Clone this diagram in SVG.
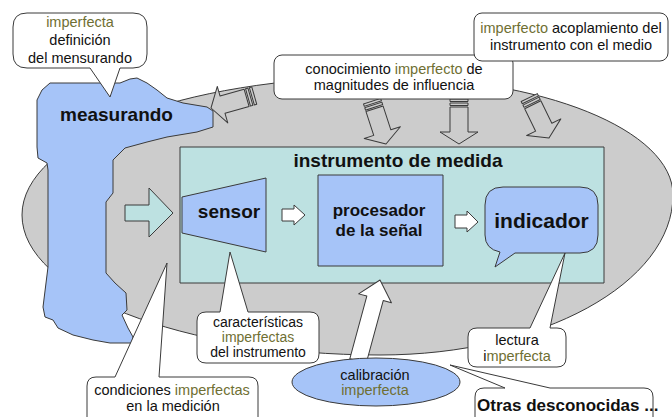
<svg xmlns="http://www.w3.org/2000/svg" width="672" height="417" viewBox="0 0 672 417">
<defs>
<style>
.ln{stroke:#3a3a3a;stroke-width:1;stroke-linejoin:round}
.gray{fill:#cccccc}
.blue{fill:#a6c4f8}
.cyan{fill:#bde1e1}
.white{fill:#ffffff}
text{font-family:"Liberation Sans",Arial,sans-serif;fill:#111111}
.t{font-size:14.5px;text-anchor:middle}
.s{font-size:14px;text-anchor:middle}
.b{font-weight:bold}
.o{fill:#6f6f33}
</style>
<g id="sa" class="ln gray">
<path d="M0,0 L-12,-19 L-12,-9 L-37,-9 L-37,9 L-12,9 L-12,19 Z"/>
<rect x="-41" y="-9" width="2.5" height="18"/>
<rect x="-45" y="-9" width="2.5" height="18"/>
</g>
</defs>
<rect width="672" height="417" fill="#ffffff"/>

<g id="environment">
<path class="ln gray" d="M22,215 C22,139 182,77 380,77 C542,77 673,130 673,195 C673,283 542,355 380,355 C182,355 22,292 22,215 Z"/>
</g>

<g id="measurando">
<path class="ln blue" d="M50,83 L120,83 L130,79 L137,78 L147,83 L157,90 L167,98 L183,103 L207,107 L213,111 L213,127 L197,132 L167,137 L147,142 L125,148 L113,160 L113,193 L106,202 L106,273 L115,283 L126,293 L127,310 L122,315 L128,328 L133,337 L132,343 L110,343 L93,340 L73,335 L58,328 L53,320 L45,317 L43,307 L48,267 L48,170 L47,163 L38,158 L37,147 L37,100 L42,90 Z"/>
<text class="b" x="60" y="121" font-size="19">measurando</text>
</g>

<g id="instrumento">
<rect class="ln cyan" x="180" y="147" width="424" height="136"/>
<text class="b" x="398" y="167" font-size="19" text-anchor="middle">instrumento de medida</text>
</g>

<g id="sensor">
<polygon class="ln blue" points="182,197 266,178 266,252 182,233"/>
<text class="b" x="229" y="218" font-size="19" text-anchor="middle">sensor</text>
</g>

<g id="procesador">
<rect class="ln blue" x="318" y="175" width="125" height="91"/>
<text class="b" x="379" y="216" font-size="17" text-anchor="middle">procesador</text>
<text class="b" x="379" y="236" font-size="17" text-anchor="middle">de la señal</text>
</g>

<g id="indicador">
<path class="ln blue" d="M503,187 H580 Q598,187 598,205 V235 Q598,253 580,253 H515 L495,267 L500,252 Q485,249 485,235 V205 Q485,187 503,187 Z"/>
<text class="b" x="541.5" y="228" font-size="21" text-anchor="middle">indicador</text>
</g>

<g id="connectors">
<use href="#sa" transform="translate(211,108) rotate(164)"/>
<use href="#sa" transform="translate(386,144) rotate(72)"/>
<use href="#sa" transform="translate(459,144) rotate(90)"/>
<use href="#sa" transform="translate(549,138) rotate(64)"/>
<polygon class="ln cyan" points="125,205 149,205 149,188 173,213 149,237 149,221 125,221"/>
<polygon class="ln white" points="282,209 294,209 294,205 305,215 294,225 294,221 282,221"/>
<polygon class="ln white" points="455,215 467,215 467,211 478,222 467,232 467,228 455,228"/>
<path class="ln white" transform="translate(380,280) rotate(-74.8)" d="M0,0 L-19,-17 L-19,-8.5 L-84,-8.5 L-84,8.5 L-19,8.5 L-19,17 Z"/>
</g>

<g id="calibracion">
<ellipse class="ln blue" cx="376" cy="382" rx="84" ry="24"/>
<text class="t" x="375" y="380">calibración</text>
<text class="t o" x="375" y="395">imperfecta</text>
</g>

<g id="callout-definicion">
<path class="ln white" d="M27,13 H133 Q147,13 147,27 V54 Q147,68 133,68 H120 L110,97 L90,68 H27 Q13,68 13,54 V27 Q13,13 27,13 Z"/>
<text class="t o" x="80" y="27">imperfecta</text>
<text class="t" x="80" y="45">definición</text>
<text class="t" x="80" y="63">del mensurando</text>
</g>

<g id="callout-influencia">
<rect class="ln white" x="274" y="55" width="239" height="44" rx="8"/>
<text class="t" x="394" y="74">conocimiento <tspan class="o">imperfecto</tspan> de</text>
<text class="t" x="394" y="90">magnitudes de influencia</text>
</g>

<g id="callout-acoplamiento">
<rect class="ln white" x="474" y="13" width="194" height="48" rx="8"/>
<text class="t" x="571" y="33"><tspan class="o">imperfecto</tspan> acoplamiento del</text>
<text class="t" x="571" y="50">instrumento con el medio</text>
</g>

<g id="callout-caracteristicas">
<path class="ln white" d="M206,312 H220 L230,252 L248,312 H310 Q319,312 319,321 V354 Q319,363 310,363 H206 Q197,363 197,354 V321 Q197,312 206,312 Z"/>
<text class="s" x="258" y="326.5">características</text>
<text class="s o" x="258" y="341.5">imperfectas</text>
<text class="s" x="258" y="356.5">del instrumento</text>
</g>

<g id="callout-condiciones">
<path class="ln white" d="M96,377 H115 L167,263 L159,377 H249 Q258,377 258,386 V425 H87 V386 Q87,377 96,377 Z"/>
<text class="t" x="172" y="395">condiciones <tspan class="o">imperfectas</tspan></text>
<text class="t" x="173" y="411">en la medición</text>
</g>

<g id="callout-lectura">
<path class="ln white" d="M477,328 H530 L565,253 L550,328 H557 Q566,328 566,337 V358 Q566,367 557,367 H477 Q468,367 468,358 V337 Q468,328 477,328 Z"/>
<text class="t" x="517" y="345">lectura</text>
<text class="t" x="517" y="361">i<tspan class="o">mperfecta</tspan></text>
</g>

<g id="callout-otras">
<path class="ln white" d="M484,388 H505 L450,365 L550,388 H644 Q653,388 653,397 V425 H475 V397 Q475,388 484,388 Z"/>
<text class="b" x="477" y="411" font-size="17">Otras desconocidas ...</text>
</g>
</svg>
